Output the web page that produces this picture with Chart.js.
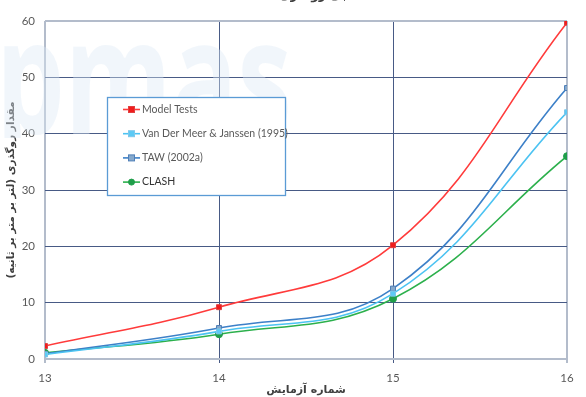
<!DOCTYPE html>
<html>
<head>
<meta charset="utf-8">
<script src="https://cdn.jsdelivr.net/npm/chart.js@4.4.0/dist/chart.umd.min.js"></script>
<style>
  html, body { margin: 0; padding: 0; background: #fff; }
</style>
</head>
<body>
<canvas id="chart" width="586" height="397"></canvas>
<script>
// test numbers along x, overtopping values
var testNumbers = [13, 14, 15, 16];
var modelTests  = [2.3, 9.2, 20.2, 59.7];
var vanDerMeer  = [0.8, 4.9, 11.6, 43.8];
var taw2002     = [0.9, 5.5, 12.5, 48.1];
var clash       = [1.1, 4.4, 10.7, 36.0];
var yTicks      = [0, 10, 20, 30, 40, 50, 60];

var seriesNames = ['Model Tests', 'Van Der Meer & Janssen (1995)', 'TAW (2002a)', 'CLASH'];
var xTitle = 'شماره آزمایش';
var yTitle = 'مقدار روگذری (لتر بر متر بر ثانیه)';
var topTitle = 'دبی روگذری';

function points(values) {
    return values.map(function (v, i) { return { x: testNumbers[i], y: v }; });
}

function series(label, values, line, fill, edge, style) {
    return {
        label: label,
        data: points(values),
        borderColor: line,
        backgroundColor: fill,
        pointBorderColor: edge,
        pointBackgroundColor: fill,
        pointStyle: style,
        pointRadius: 3.5,
        pointBorderWidth: 1,
        borderWidth: 1.6,
        tension: 0.4,
        fill: false
    };
}

var datasets = [
    series(seriesNames[0], modelTests, '#ff3b3b', '#f01c1c', '#e04040', 'rect'),
    series(seriesNames[1], vanDerMeer, '#4cc3f2', '#5ccaf5', '#7fc7ea', 'rect'),
    series(seriesNames[2], taw2002, '#3d80c8', '#86a9cc', '#4f7fb8', 'rect'),
    series(seriesNames[3], clash, '#2cb04c', '#1f9e4a', '#1f9e4a', 'circle')
];

// faint watermark and the clipped title above the plot
var backdrop = {
    id: 'backdrop',
    beforeDatasetsDraw: function (chart) {
        var ctx = chart.ctx;
        ctx.save();
        ctx.beginPath();
        ctx.rect(0, 0, 330, 138);
        ctx.clip();
        ctx.fillStyle = 'rgba(220, 232, 245, 0.4)';
        ctx.font = 'bold 160px "Open Sans"';
        ctx.textBaseline = 'alphabetic';
        ctx.translate(-4, 134);
        ctx.scale(0.68, 1);
        ctx.fillText('pmas', 0, 0);
        ctx.restore();

        ctx.save();
        ctx.fillStyle = '#404040';
        ctx.font = 'bold 12px "DejaVu Sans"';
        ctx.textAlign = 'center';
        ctx.textBaseline = 'alphabetic';
        ctx.fillText(topTitle, 316, -1);
        ctx.restore();
    }
};

// boxed legend sitting inside the plot, like the original
var boxLegend = {
    id: 'boxLegend',
    afterDraw: function (chart) {
        var ctx = chart.ctx;
        ctx.save();
        ctx.fillStyle = '#ffffff';
        ctx.fillRect(107, 97, 178, 98);
        ctx.strokeStyle = '#5b9bd5';
        ctx.lineWidth = 1.3;
        ctx.strokeRect(107.5, 97.5, 178, 98);

        ctx.textBaseline = 'middle';
        ctx.textAlign = 'left';
        chart.data.datasets.forEach(function (ds, i) {
            var y = 109.5 + i * 24.2;
            ctx.strokeStyle = ds.borderColor;
            ctx.lineWidth = 1.6;
            ctx.beginPath();
            ctx.moveTo(123, y);
            ctx.lineTo(140, y);
            ctx.stroke();
            ctx.fillStyle = ds.pointBackgroundColor;
            ctx.strokeStyle = ds.pointBorderColor;
            ctx.lineWidth = 1;
            if (ds.pointStyle === 'circle') {
                ctx.beginPath();
                ctx.arc(131.5, y, 3, 0, Math.PI * 2);
                ctx.fill();
                ctx.stroke();
            } else {
                ctx.fillRect(128.5, y - 3, 6, 6);
                ctx.strokeRect(128.5, y - 3, 6, 6);
            }
            ctx.fillStyle = i === 3 ? '#333333' : '#595959';
            ctx.font = '10.5px Lato';
            ctx.fillText(ds.label, 142, y);
        });
        ctx.restore();
    }
};

function gridColor(ctx, first, last) {
    var v = ctx.tick ? ctx.tick.value : null;
    return (v === first || v === last) ? '#b3bccb' : '#475a85';
}
function gridWidth(ctx, first, last) {
    var v = ctx.tick ? ctx.tick.value : null;
    return (v === first || v === last) ? 2 : 1;
}

new Chart(document.getElementById('chart'), {
    type: 'line',
    data: { datasets: datasets },
    plugins: [backdrop, boxLegend],
    options: {
        responsive: false,
        animation: false,
        layout: { padding: { top: 21, right: 19, left: 0, bottom: 0 } },
        plugins: {
            legend: { display: false },
            tooltip: { enabled: false }
        },
        scales: {
            x: {
                type: 'linear',
                min: testNumbers[0],
                max: testNumbers[testNumbers.length - 1],
                afterBuildTicks: function (scale) {
                    scale.ticks = testNumbers.map(function (v) { return { value: v }; });
                },
                afterFit: function (scale) { scale.height = 38; },
                grid: {
                    color: function (c) { return gridColor(c, 13, 16); },
                    lineWidth: function (c) { return gridWidth(c, 13, 16); },
                    drawTicks: true,
                    tickLength: 4
                },
                border: { display: false },
                ticks: {
                    padding: 8,
                    color: '#595959',
                    font: { family: 'Lato', size: 11.5 }
                },
                title: {
                    display: true,
                    text: xTitle,
                    color: '#404040',
                    padding: { top: 0, bottom: 0 },
                    font: { family: '"DejaVu Sans"', size: 11, weight: 'bold' }
                }
            },
            y: {
                min: 0,
                max: 60,
                afterBuildTicks: function (scale) {
                    scale.ticks = yTicks.map(function (v) { return { value: v }; });
                },
                afterFit: function (scale) { scale.width = 45; },
                grid: {
                    color: function (c) { return gridColor(c, 0, 60); },
                    lineWidth: function (c) { return gridWidth(c, 0, 60); },
                    drawTicks: false
                },
                border: { display: false },
                ticks: {
                    padding: 10,
                    color: '#595959',
                    font: { family: 'Lato', size: 11.5 }
                },
                title: {
                    display: true,
                    text: yTitle,
                    color: '#404040',
                    padding: { top: 5, bottom: 0 },
                    font: { family: '"DejaVu Sans"', size: 10.5, weight: 'bold' }
                }
            }
        }
    }
});
</script>
</body>
</html>
